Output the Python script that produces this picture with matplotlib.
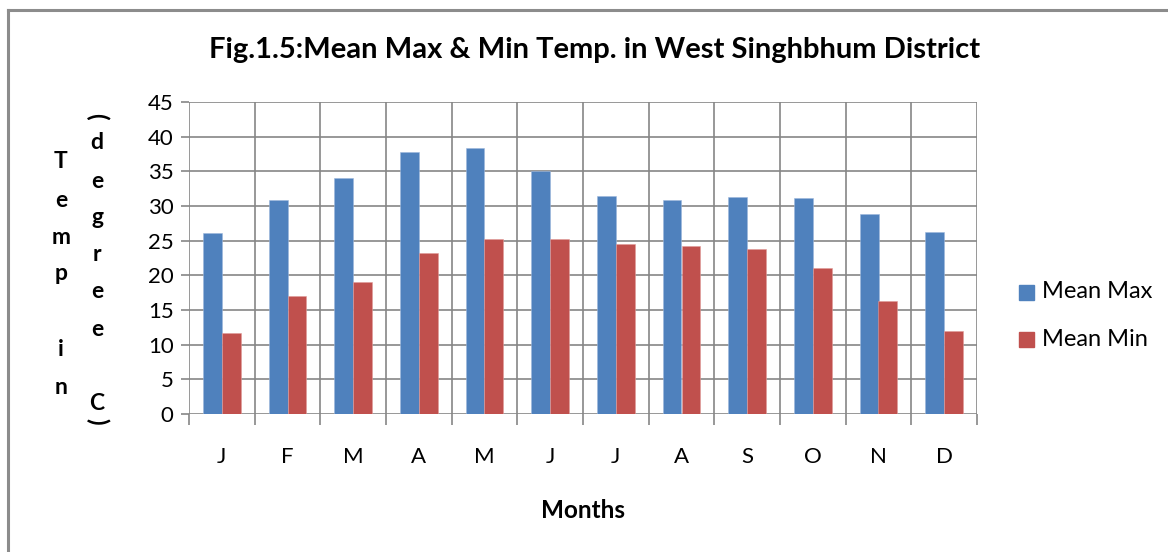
import matplotlib
matplotlib.use("Agg")
import matplotlib.pyplot as plt
import numpy as np
from matplotlib.lines import Line2D

plt.rcParams['font.family'] = ['Lato', 'DejaVu Sans']

months = ["J", "F", "M", "A", "M", "J", "J", "A", "S", "O", "N", "D"]
mean_max = [26.1, 30.9, 34.0, 37.8, 38.4, 35.0, 31.4, 30.9, 31.3, 31.1, 28.9, 26.2]
mean_min = [11.7, 17.0, 19.1, 23.2, 25.2, 25.3, 24.5, 24.3, 23.8, 21.1, 16.3, 11.9]
yticks = [0, 5, 10, 15, 20, 25, 30, 35, 40, 45]
title = "Fig.1.5:Mean Max & Min Temp. in West Singhbhum District"
xlabel = "Months"
series_names = ["Mean Max", "Mean Min"]
colors = ["#4F81BD", "#C0504D"]

W, H = 1168, 552
fig = plt.figure(figsize=(W / 100, H / 100), dpi=100)
ax = fig.add_axes([189 / W, 1 - 414 / H, (977 - 189) / W, (414 - 102) / H])

x = np.arange(len(months))
bw = 1 / 3.5
ax.bar(x - bw / 2, mean_max, width=bw, color=colors[0], edgecolor="#9DB7DC", linewidth=0.4, zorder=3)
ax.bar(x + bw / 2, mean_min, width=bw, color=colors[1], edgecolor="#E09C9A", linewidth=0.4, zorder=3)

ax.set_xlim(-0.5, len(months) - 0.5)
ax.set_ylim(0, 45)
gc = "#868686"
lw = 1.2
for v in yticks:
    ax.axhline(v, color=gc, lw=lw, zorder=1)
for b in np.arange(-0.5, len(months), 1.0):
    ax.axvline(b, color=gc, lw=lw, zorder=1)

for s in ax.spines.values():
    s.set_visible(False)

fs = 16
ax.set_yticks(yticks)
ax.set_yticklabels([str(v) for v in yticks], fontsize=fs, color="black")
ax.tick_params(axis='y', length=6, width=lw, color=gc, pad=5)
ax.set_xticks(np.arange(-0.5, len(months), 1.0), minor=False)
ax.set_xticklabels([""] * (len(months) + 1))
ax.tick_params(axis='x', length=8, width=lw, color=gc)
for i, m in enumerate(months):
    ax.text(i, -6.2, m, ha="center", va="center", fontsize=fs, color="black",
            transform=ax.transData, clip_on=False)

fig.text(595 / W, 1 - 50 / H, title, ha="center", va="center", fontsize=21, fontweight="bold")
fig.text(583 / W, 1 - 510 / H, xlabel, ha="center", va="center", fontsize=17.5, fontweight="bold")

# stacked y-axis label
lfs = 16.5
col1 = [("T", 162), ("e", 200), ("m", 237), ("p", 273), ("i", 350), ("n", 387)]
col2 = [("d", 143), ("e", 182), ("g", 218), ("r", 255), ("e", 292), ("e", 330), ("C", 403)]
for ch, yy in col1:
    fig.text(61 / W, 1 - yy / H, ch, ha="center", va="center", fontsize=lfs, fontweight="bold")
for ch, yy in col2:
    fig.text(97 / W, 1 - yy / H, ch, ha="center", va="center", fontsize=lfs, fontweight="bold")
fig.text(97 / W, 1 - 116 / H, "(", ha="center", va="center", fontsize=lfs + 1, fontweight="bold", rotation=-90)
fig.text(97 / W, 1 - 421 / H, ")", ha="center", va="center", fontsize=lfs + 1, fontweight="bold", rotation=-90)

# legend
for name, c, yy in zip(series_names, colors, [292, 339]):
    fig.patches.append(plt.Rectangle((1019 / W, 1 - (yy + 7.5) / H), 15 / W, 15 / H,
                                     transform=fig.transFigure, color=c, figure=fig))
    fig.text(1042 / W, 1 - yy / H, name, ha="left", va="center", fontsize=17, color="black")

# chart border (top and left visible)
fig.add_artist(Line2D([8 / W, 1], [1 - 9.5 / H, 1 - 9.5 / H], transform=fig.transFigure, color="#8C8C8C", lw=2.2))
fig.add_artist(Line2D([8 / W, 8 / W], [0, 1 - 9.5 / H], transform=fig.transFigure, color="#8C8C8C", lw=2.2))

fig.savefig("out.png", dpi=100)
